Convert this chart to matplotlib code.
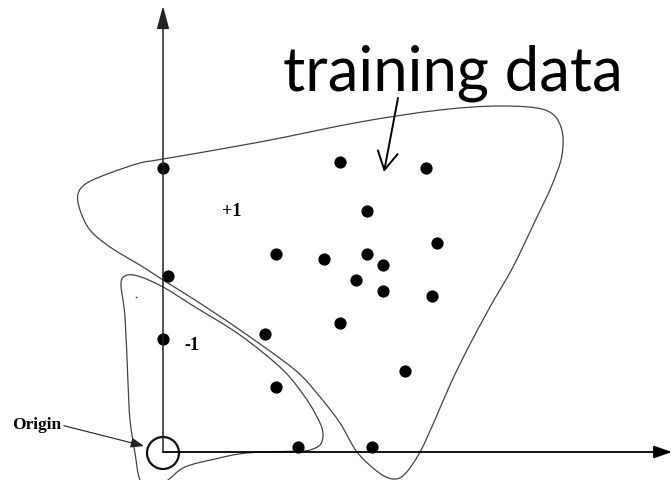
import numpy as np
import matplotlib
matplotlib.use("Agg")
from matplotlib import pyplot as plt
from matplotlib.path import Path
from matplotlib.patches import PathPatch, Circle

# sample points (drawing units, y grows downward)
dot_x = [163, 168, 163, 340, 426, 367, 437, 276, 324, 367, 383, 356, 383, 432, 340, 265, 405, 276, 298, 372]
dot_y = [168, 276, 339, 162, 168, 211, 243, 254, 259, 254, 265, 280, 291, 296, 323, 334, 371, 387, 447, 447]

# outline of the whole training set
big_x = [163, 260, 360, 440, 500, 545, 561, 562, 552, 537, 513, 490, 467, 450, 434, 420, 405, 393,
         378, 357, 340, 320, 295, 240, 195, 163, 143, 110, 90, 80, 78, 87, 110, 140]
big_y = [159, 142, 122, 110, 106, 110, 127, 155, 185, 217, 267, 307, 350, 385, 422, 452, 474, 479,
         472, 452, 423, 397, 370, 330, 300, 280, 267, 247, 230, 210, 194, 183, 173, 163]

# outline of the -1 region
small_x = [138, 163, 195, 240, 283, 307, 320, 323, 320, 310, 300, 247, 215, 185, 168, 152, 140, 135,
           130, 128, 125, 121, 125]
small_y = [276, 287, 307, 335, 370, 400, 423, 435, 445, 450, 451, 453, 459, 467, 480, 492, 480, 453,
           420, 383, 317, 285, 276]


def closed_curve(xs, ys):
    # smooth closed curve through the points (Catmull-Rom as cubic Beziers)
    p = np.column_stack([xs, ys]).astype(float)
    n = len(p)
    verts = [p[0]]
    codes = [Path.MOVETO]
    for i in range(n):
        p0, p1, p2, p3 = p[i - 1], p[i], p[(i + 1) % n], p[(i + 2) % n]
        verts += [p1 + (p2 - p0) / 6, p2 - (p3 - p1) / 6, p2]
        codes += [Path.CURVE4] * 3
    return Path(verts, codes)


fig = plt.figure(figsize=(6.72, 4.8), dpi=100)
ax = fig.add_axes([0, 0, 1, 1])
ax.set_xlim(0, 672)
ax.set_ylim(480, 0)
ax.axis('off')

# axes with arrow heads
ax.annotate('', xy=(163, 6), xytext=(163, 452),
            arrowprops=dict(arrowstyle='-|>,head_length=1.4,head_width=0.38', mutation_scale=10,
                            color='#222222', lw=1.1, shrinkA=0, shrinkB=0))
ax.annotate('', xy=(672, 452), xytext=(163, 452),
            arrowprops=dict(arrowstyle='-|>,head_length=1.1,head_width=0.38', mutation_scale=10,
                            color='black', lw=1.3, shrinkA=0, shrinkB=0))

ax.add_patch(PathPatch(closed_curve(big_x, big_y), fill=False, ec='#444444', lw=0.9))
ax.add_patch(PathPatch(closed_curve(small_x, small_y), fill=False, ec='#444444', lw=0.9))

ax.plot(dot_x, dot_y, 'o', color='black', ms=8.8, mec='none')
ax.plot([136], [297], 'o', color='#333333', ms=1.2, mec='none')

ax.add_patch(Circle((163, 453), 16, fill=False, ec='#111111', lw=1.6))

ax.text(232, 212, '+1', family='Liberation Serif', weight='bold', fontsize=13, ha='center', va='center')
ax.text(192, 346, '-1', family='Liberation Serif', weight='bold', fontsize=13, ha='center', va='center')

ax.annotate('Origin', xy=(144, 446), xytext=(12, 425), family='Liberation Serif', weight='bold',
            fontsize=12.5, ha='left', va='center',
            arrowprops=dict(arrowstyle='-|>,head_length=0.8,head_width=0.3', mutation_scale=10,
                            color='#222222', lw=0.8, shrinkA=0, shrinkB=0, relpos=(1, 0.5)))

ax.text(283, 90, 'training data', family='Lato', fontsize=44.5, ha='left', va='baseline')
ax.annotate('', xy=(384, 172), xytext=(398, 98),
            arrowprops=dict(arrowstyle='->,head_length=0.65,head_width=0.36', mutation_scale=20,
                            color='black', lw=1.4, shrinkA=0, shrinkB=0))

fig.savefig('out.png', dpi=100)
